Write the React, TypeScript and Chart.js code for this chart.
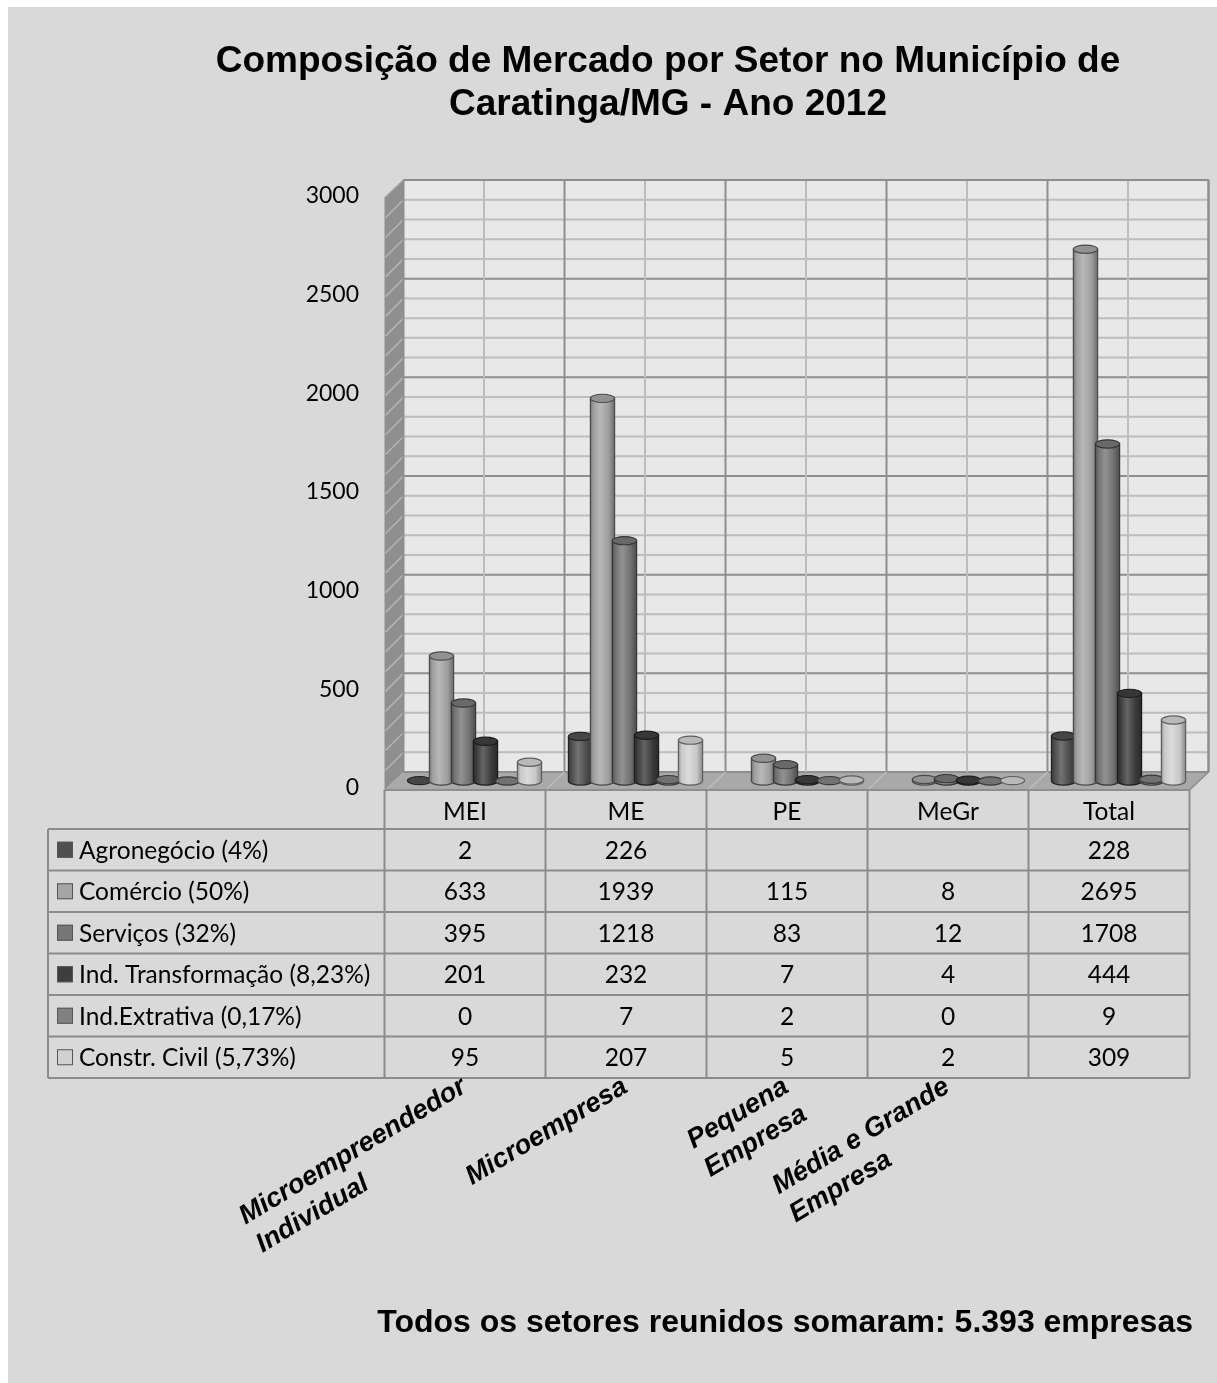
import React, { useEffect, useRef } from "react";
import { Chart, registerables } from "chart.js";

Chart.register(...registerables);

// ---- data ----
const categories = ["MEI", "ME", "PE", "MeGr", "Total"];
const categoryCaptions = [
  ["Microempreendedor", "Individual"],
  ["Microempresa"],
  ["Pequena", "Empresa"],
  ["Média e Grande", "Empresa"],
  [],
];
const seriesNames = [
  "Agronegócio (4%)",
  "Comércio (50%)",
  "Serviços (32%)",
  "Ind. Transformação (8,23%)",
  "Ind.Extrativa (0,17%)",
  "Constr. Civil (5,73%)",
];
const agronegocio = [2, 226, null, null, 228];
const comercio = [633, 1939, 115, 8, 2695];
const servicos = [395, 1218, 83, 12, 1708];
const indTransformacao = [201, 232, 7, 4, 444];
const indExtrativa = [0, 7, 2, 0, 9];
const constrCivil = [95, 207, 5, 2, 309];
const seriesValues = [agronegocio, comercio, servicos, indTransformacao, indExtrativa, constrCivil];

const yMax = 3000;
const yStep = 500;
const yMinorStep = 100;

const titleLines = ["Composição de Mercado por Setor no Município de", "Caratinga/MG - Ano 2012"];
const footerText = "Todos os setores reunidos somaram: 5.393 empresas";

// ---- styles ----
const seriesColors = ["#505050", "#a6a6a6", "#777777", "#3e3e3e", "#808080", "#d2d2d2"];
const PAGE_BG = "#d9d9d9";
const WALL_BG = "#e8e8e8";
const SIDE_BG = "#8f8f8f";
const FLOOR_BG = "#a9a9a9";
const GRID_MAJOR = "#8e8e8e";
const GRID_MINOR = "#bdbdbd";
const TABLE_LINE = "#8c8c8c";
const CALIBRI_LIKE = "Lato, 'Open Sans', sans-serif";
const ARIAL_LIKE = "'Liberation Sans', Arial, sans-serif";

// half of the 3D depth: back wall is +dx/-dy from the bar plane, front edge is -dx/+dy
const PLANE = { dx: 9.5, dy: 9 };

function mix(hex: string, amt: number) {
  const n = parseInt(hex.slice(1), 16);
  let r = (n >> 16) & 255, g = (n >> 8) & 255, b = n & 255;
  const t = amt < 0 ? 0 : 255;
  const a = Math.abs(amt);
  r = Math.round(r + (t - r) * a);
  g = Math.round(g + (t - g) * a);
  b = Math.round(b + (t - b) * a);
  return `rgb(${r},${g},${b})`;
}

function drawCylinder(ctx: CanvasRenderingContext2D, cx: number, yTop: number, yBase: number, w: number, color: string) {
  const rx = w / 2;
  const ry = w * 0.17;
  const left = cx - rx;
  const right = cx + rx;
  ctx.save();
  if (yBase - yTop > 0.5) {
    const g = ctx.createLinearGradient(left, 0, right, 0);
    g.addColorStop(0, mix(color, -0.3));
    g.addColorStop(0.12, mix(color, -0.05));
    g.addColorStop(0.4, mix(color, 0.2));
    g.addColorStop(0.75, mix(color, -0.05));
    g.addColorStop(1, mix(color, -0.35));
    ctx.beginPath();
    ctx.moveTo(left, yTop);
    ctx.lineTo(left, yBase);
    ctx.ellipse(cx, yBase, rx, ry, 0, Math.PI, 0, true);
    ctx.lineTo(right, yTop);
    ctx.closePath();
    ctx.fillStyle = g;
    ctx.fill();
    ctx.lineWidth = 1.2;
    ctx.strokeStyle = mix(color, -0.55);
    ctx.stroke();
  }
  ctx.beginPath();
  ctx.ellipse(cx, yTop, rx, ry, 0, 0, Math.PI * 2);
  ctx.fillStyle = mix(color, -0.12);
  ctx.fill();
  ctx.lineWidth = 1.2;
  ctx.strokeStyle = mix(color, -0.55);
  ctx.stroke();
  ctx.restore();
}

function line(ctx: CanvasRenderingContext2D, x1: number, y1: number, x2: number, y2: number, color: string, w = 2) {
  ctx.beginPath();
  ctx.moveTo(x1, y1);
  ctx.lineTo(x2, y2);
  ctx.strokeStyle = color;
  ctx.lineWidth = w;
  ctx.stroke();
}

const framePlugin = {
  id: "frame3d",
  beforeDraw(chart: any) {
    const ctx: CanvasRenderingContext2D = chart.ctx;
    const xs = chart.scales.x;
    const ys = chart.scales.y;
    const { left, right } = chart.chartArea;
    ctx.save();
    // page
    ctx.fillStyle = "#ffffff";
    ctx.fillRect(0, 0, chart.width, chart.height);
    ctx.fillStyle = PAGE_BG;
    ctx.fillRect(8, 7, chart.width - 8, chart.height - 7);

    const y0 = ys.getPixelForValue(0);
    const yT = ys.getPixelForValue(yMax);
    const bL = left + PLANE.dx, bR = right + PLANE.dx;
    const bT = yT - PLANE.dy, bB = y0 - PLANE.dy;
    const fL = left - PLANE.dx, fR = right - PLANE.dx;
    const fB = y0 + PLANE.dy, fT = yT + PLANE.dy;

    // back wall
    ctx.fillStyle = WALL_BG;
    ctx.fillRect(bL, bT, bR - bL, bB - bT);
    // side wall
    ctx.beginPath();
    ctx.moveTo(bL, bT);
    ctx.lineTo(bL, bB);
    ctx.lineTo(fL, fB);
    ctx.lineTo(fL, fT);
    ctx.closePath();
    ctx.fillStyle = SIDE_BG;
    ctx.fill();
    // floor
    ctx.beginPath();
    ctx.moveTo(bL, bB);
    ctx.lineTo(bR, bB);
    ctx.lineTo(fR, fB);
    ctx.lineTo(fL, fB);
    ctx.closePath();
    ctx.fillStyle = FLOOR_BG;
    ctx.fill();

    // horizontal grid (back wall + side wall)
    for (let v = 0; v <= yMax; v += yMinorStep) {
      const py = ys.getPixelForValue(v);
      const major = v % yStep === 0;
      line(ctx, bL, py - PLANE.dy, bR, py - PLANE.dy, major ? GRID_MAJOR : GRID_MINOR, 2);
      if (v > 0 && v < yMax) line(ctx, bL, py - PLANE.dy, fL + 1, py + PLANE.dy, "#b3b3b3", 1.6);
    }
    // vertical grid on back wall, boundary lines on floor
    const n = categories.length;
    const catW = (right - left) / n;
    for (let i = 0; i <= n; i++) {
      const bx = left + i * catW + PLANE.dx;
      line(ctx, bx, bT, bx, bB, GRID_MAJOR, 2);
      if (i > 0 && i < n) line(ctx, bx, bB, bx - 2 * PLANE.dx, fB, "#bdbdbd", 1.6);
      if (i < n) {
        const mx = xs.getPixelForValue(i) + PLANE.dx;
        line(ctx, mx, bT, mx, bB, GRID_MINOR, 2);
      }
    }
    // frame edges
    line(ctx, bL, bT, bR, bT, GRID_MAJOR, 2);
    line(ctx, bR, bT, bR, bB, GRID_MAJOR, 2);
    line(ctx, bR, bB, fR, fB, GRID_MAJOR, 1.6);
    line(ctx, fL, fB, fR, fB, GRID_MAJOR, 2);
    line(ctx, bL, bT, fL, fT, "#a0a0a0", 1.2);
    ctx.restore();
  },
  afterDatasetsDraw(chart: any) {
    const ctx: CanvasRenderingContext2D = chart.ctx;
    const n = categories.length;
    for (let i = 0; i < n; i++) {
      chart.data.datasets.forEach((ds: any, d: number) => {
        const v = ds.data[i];
        if (v === null || v === undefined) return;
        const el = chart.getDatasetMeta(d).data[i];
        drawCylinder(ctx, el.x, el.y, el.base, el.width * 1.1, seriesColors[d]);
      });
    }
  },
  afterDraw(chart: any) {
    const ctx: CanvasRenderingContext2D = chart.ctx;
    const xs = chart.scales.x;
    const ys = chart.scales.y;
    const { left, right } = chart.chartArea;
    const n = categories.length;
    const catW = (right - left) / n;
    const fL = left - PLANE.dx;
    const fR = right - PLANE.dx;
    const top = ys.getPixelForValue(0) + PLANE.dy;
    const headerH = 39;
    const rowH = 41.5;
    const legendLeft = 48;
    const bodyTop = top + headerH;
    const bodyBottom = bodyTop + rowH * seriesNames.length;

    ctx.save();
    // table grid
    for (let i = 0; i <= n; i++) {
      const x = fL + i * catW;
      line(ctx, x, top, x, bodyBottom, TABLE_LINE, 2);
    }
    line(ctx, legendLeft, bodyTop, legendLeft, bodyBottom, TABLE_LINE, 2);
    for (let r = 0; r <= seriesNames.length; r++) {
      const y = bodyTop + r * rowH;
      line(ctx, legendLeft, y, fR, y, TABLE_LINE, 2);
    }

    ctx.fillStyle = "#000";
    ctx.textBaseline = "middle";
    ctx.font = `24.5px ${CALIBRI_LIKE}`;
    ctx.textAlign = "center";
    categories.forEach((c, i) => {
      ctx.fillText(c, xs.getPixelForValue(i) - PLANE.dx, top + headerH / 2 + 3);
    });
    seriesNames.forEach((name, r) => {
      const cy = bodyTop + r * rowH + rowH / 2;
      // legend key
      ctx.fillStyle = seriesColors[r];
      ctx.fillRect(57, cy - 8, 16, 16);
      ctx.strokeStyle = "#555";
      ctx.lineWidth = 1;
      ctx.strokeRect(57.5, cy - 7.5, 15, 15);
      ctx.fillStyle = "#000";
      ctx.textAlign = "left";
      ctx.fillText(name, 79, cy + 1);
      ctx.textAlign = "center";
      seriesValues[r].forEach((v, i) => {
        if (v === null) return;
        ctx.fillText(String(v), xs.getPixelForValue(i) - PLANE.dx, cy + 1);
      });
    });

    // rotated category captions
    const ang = (31 * Math.PI) / 180;
    const lh = 33;
    ctx.font = `italic bold 27px ${ARIAL_LIKE}`;
    ctx.textBaseline = "alphabetic";
    ctx.textAlign = "left";
    categoryCaptions.forEach((lines, i) => {
      if (!lines.length) return;
      const w = ctx.measureText(lines[0]).width;
      const ex = xs.getPixelForValue(i) - PLANE.dx + 3;
      const ey = 1091;
      const sx = ex - w * Math.cos(ang);
      const sy = ey + w * Math.sin(ang);
      lines.forEach((t, k) => {
        ctx.save();
        ctx.translate(sx + k * lh * Math.sin(ang), sy + k * lh * Math.cos(ang));
        ctx.rotate(-ang);
        ctx.fillText(t, 0, 0);
        ctx.restore();
      });
    });

    // title and footer
    ctx.font = `bold 37px ${ARIAL_LIKE}`;
    ctx.textAlign = "center";
    ctx.fillText(titleLines[0], 668, 72);
    ctx.fillText(titleLines[1], 668, 115);
    ctx.font = `bold 32px ${ARIAL_LIKE}`;
    ctx.textAlign = "right";
    ctx.fillText(footerText, 1193, 1332);
    ctx.restore();
  },
};

export default function App() {
  const ref = useRef<HTMLCanvasElement>(null);
  useEffect(() => {
    const chart = new Chart(ref.current as HTMLCanvasElement, {
      type: "bar",
      data: {
        labels: categories,
        datasets: seriesValues.map((vals, d) => ({
          label: seriesNames[d],
          data: vals,
          backgroundColor: "rgba(0,0,0,0)",
          borderWidth: 0,
          categoryPercentage: 0.82,
          barPercentage: 1,
        })),
      },
      options: {
        responsive: false,
        animation: false,
        devicePixelRatio: 1,
        layout: { padding: { left: 0, right: 18, top: 189, bottom: 602 } },
        plugins: { legend: { display: false }, title: { display: false }, tooltip: { enabled: false } },
        scales: {
          x: { type: "category", display: false, grid: { display: false } },
          y: {
            min: 0,
            max: yMax,
            grid: { display: false, drawTicks: false },
            border: { display: false },
            afterFit: (axis: any) => {
              axis.width = 394;
            },
            ticks: {
              stepSize: yStep,
              padding: 35,
              labelOffset: 7,
              color: "#000",
              font: { family: CALIBRI_LIKE, size: 23 },
              callback: (v: any) => String(v),
            },
          },
        },
      },
      plugins: [framePlugin],
    });
    return () => chart.destroy();
  }, []);
  return (
    <div style={{ position: "absolute", left: 0, top: 0, width: 1217, height: 1383 }}>
      <canvas ref={ref} width={1217} height={1383} style={{ display: "block", width: 1217, height: 1383 }} />
    </div>
  );
}
